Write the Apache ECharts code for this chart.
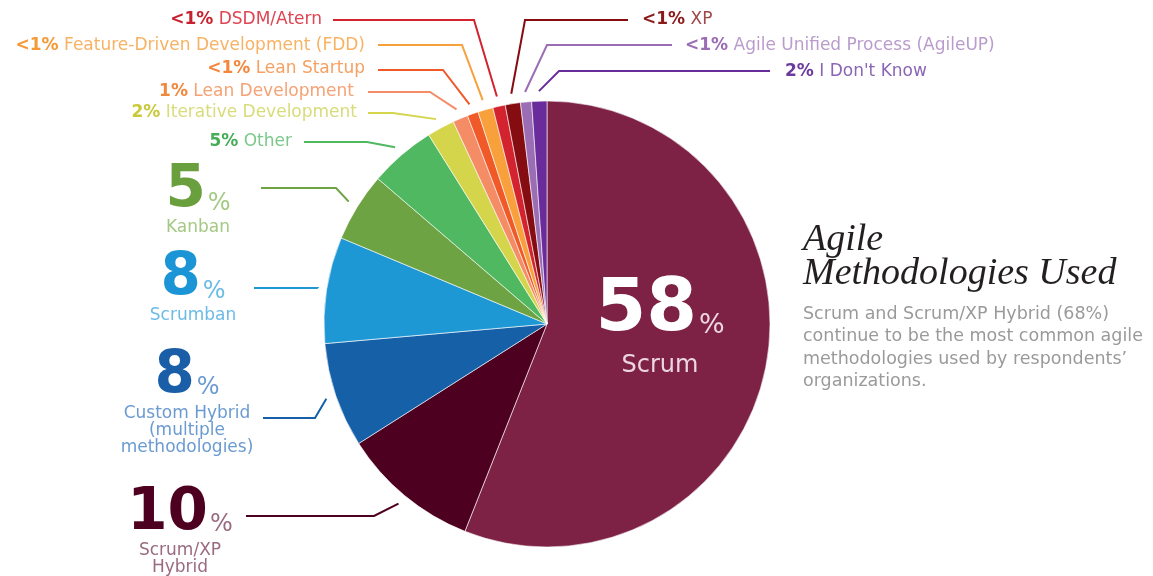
<!DOCTYPE html>
<html>
<head>
<meta charset="utf-8">
<script src="https://cdn.jsdelivr.net/npm/echarts@6/dist/echarts.min.js"></script>
<style>html,body{margin:0;padding:0;background:#fff}#c{width:1153px;height:576px}</style>
</head>
<body>
<div id="c"></div>
<script>
// ---- data ----
const categories = ['Scrum', 'Scrum/XP Hybrid', 'Custom Hybrid (multiple methodologies)', 'Scrumban', 'Kanban', 'Other',
  'Iterative Development', 'Lean Development', 'Lean Startup', 'Feature-Driven Development (FDD)', 'DSDM/Atern', 'XP',
  'Agile Unified Process (AgileUP)', "I Don't Know"];
const displayNames = ['Scrum', 'Scrum/XP\nHybrid', 'Custom Hybrid\n(multiple\nmethodologies)', 'Scrumban', 'Kanban', 'Other',
  'Iterative Development', 'Lean Development', 'Lean Startup', 'Feature-Driven Development (FDD)', 'DSDM/Atern', 'XP',
  'Agile Unified Process (AgileUP)', "I Don't Know"];
// slice sizes as drawn (share of the circle, %)
const values = [56.0, 10.0, 7.6, 7.7, 5.0, 4.8, 2.0, 1.1, 0.8, 1.1, 0.9, 1.1, 0.8, 1.1];
// percentages as printed in the labels
const percentLabels = ['58', '10', '8', '8', '5', '5', '2', '1', '<1', '<1', '<1', '<1', '<1', '2'];

// ---- styles ----
const sliceColors = ['#7d2245', '#4e0020', '#1660a8', '#1e98d4', '#6ea344', '#4fb860', '#d5d54c', '#f48c66',
  '#f05a28', '#f7a03c', '#d2232e', '#850c10', '#9b6db5', '#6a2c9a'];
const strongColors = ['#ffffff', '#4e0020', '#1a5ea8', '#1b95d6', '#6a9f3e', '#45ad58', '#c9c93a', '#f0883e',
  '#f4873a', '#f39a36', '#c8202e', '#8b1a1a', '#9b6db5', '#6a3a9f'];
const softColors = ['#ecd6e0', '#9a6b80', '#6b9bd0', '#6bbbe6', '#a3c982', '#7cc88a', '#d8dc7a', '#f6a274',
  '#f6a062', '#f8b264', '#de4451', '#a04848', '#b99ccc', '#8a66b5'];
const kind = ['inside', 'big', 'big', 'big', 'big', 'inline', 'inline', 'inline', 'inline', 'inline', 'inline', 'inline', 'inline', 'inline'];

const CX = 547, CY = 324, R = 223, GAP = 10;
// label anchor, number line height, leader line (bend x, line y, end x)
const LAYOUT = [
  { x: 660, y: 331, align: 'center', lh: 70 },
  { x: 180, y: 532, align: 'center', lh: 55, line: [374, 516, 246] },
  { x: 187, y: 404, align: 'center', lh: 54, line: [315, 418, 263] },
  { x: 193, y: 291, align: 'center', lh: 50, line: [317, 288, 254] },
  { x: 198, y: 202.5, align: 'center', lh: 51, line: [336, 188, 261] },
  { x: 292, y: 142, align: 'right', line: [367, 142, 304] },
  { x: 357, y: 113, align: 'right', line: [393, 113, 368] },
  { x: 354, y: 92, align: 'right', line: [430, 92, 368] },
  { x: 365, y: 69, align: 'right', line: [443, 70, 378] },
  { x: 365, y: 46, align: 'right', line: [462, 45, 378] },
  { x: 322, y: 20, align: 'right', line: [474, 20, 333] },
  { x: 642, y: 20, align: 'left', line: [525, 20, 628] },
  { x: 685, y: 46, align: 'left', line: [547, 45, 672] },
  { x: 785, y: 72, align: 'left', line: [559, 71, 770] }
];

const SANS = 'DejaVu Sans';

function buildItem(i) {
  const k = kind[i];
  const L = LAYOUT[i];
  let formatter, rich;
  if (k === 'inline') {
    formatter = '{b|' + percentLabels[i] + '%}{t| ' + displayNames[i] + '}';
    rich = {
      b: { fontFamily: SANS, fontWeight: 'bold', fontSize: 17, color: strongColors[i] },
      t: { fontFamily: SANS, fontSize: 17, color: softColors[i] }
    };
  } else {
    const big = k === 'inside';
    const lines = displayNames[i].split('\n').map(s => '{nm|' + s + '}').join('\n');
    formatter = '{num|' + percentLabels[i] + '}{pct|%}\n' + lines;
    const pad = big ? 8.5 : Math.max(0, L.lh / 2 - 21.5);
    rich = {
      num: { fontFamily: SANS, fontWeight: 'bold', fontSize: big ? 73 : 58, lineHeight: L.lh,
        color: strongColors[i], align: 'center', verticalAlign: 'bottom' },
      pct: { fontFamily: SANS, fontSize: big ? 27 : 24, lineHeight: big ? 27 : 24,
        color: softColors[i], align: 'center', verticalAlign: 'bottom', padding: [0, 0, pad, 2] },
      nm: { fontFamily: SANS, fontSize: big ? 24 : 17, lineHeight: big ? 36 : 17,
        color: softColors[i], align: 'center' }
    };
  }
  return {
    name: categories[i],
    value: values[i],
    itemStyle: { color: sliceColors[i] },
    label: { show: true, position: k === 'inside' ? 'inside' : 'outside', formatter: formatter, rich: rich },
    labelLine: k === 'inside' ? { show: false } : { show: true, lineStyle: { color: sliceColors[i], width: 2 } }
  };
}

const chart = echarts.init(document.getElementById('c'), null, { renderer: 'canvas' });
chart.setOption({
  animation: false,
  title: {
    left: 803, top: 223, padding: 0,
    text: 'Agile\nMethodologies Used',
    textStyle: { fontFamily: 'Liberation Serif', fontStyle: 'italic', fontWeight: 'normal', fontSize: 38, lineHeight: 34, color: '#231f20' },
    subtext: 'Scrum and Scrum/XP Hybrid (68%)\ncontinue to be the most common agile\nmethodologies used by respondents\u2019\norganizations.',
    subtextStyle: { fontFamily: SANS, fontSize: 17.5, lineHeight: 22.5, color: '#9a9a9a' },
    itemGap: 8
  },
  series: [{
    type: 'pie',
    center: [CX, CY],
    radius: R,
    startAngle: 90,
    clockwise: true,
    avoidLabelOverlap: false,
    silent: true,
    itemStyle: { borderColor: '#ffffff', borderWidth: 0.6 },
    labelLine: { length: 10, length2: 10, smooth: false },
    labelLayout: function (p) {
      const L = LAYOUT[p.dataIndex];
      const res = { x: L.x, y: L.y, align: L.align, verticalAlign: 'middle' };
      if (L.line && p.labelLinePoints) {
        const p0 = p.labelLinePoints[0];
        const dx = p0[0] - CX, dy = p0[1] - CY, d = Math.hypot(dx, dy);
        const s = [CX + dx * (d + GAP) / d, CY + dy * (d + GAP) / d];
        res.labelLinePoints = [s, [L.line[0], L.line[1]], [L.line[2], L.line[1]]];
      }
      return res;
    },
    data: categories.map((c, i) => buildItem(i))
  }]
});
</script>
</body>
</html>
